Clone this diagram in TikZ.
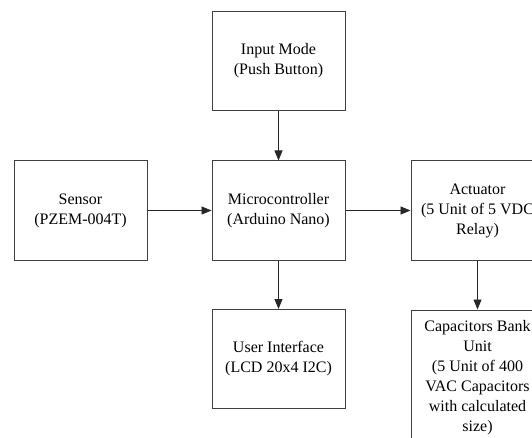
\documentclass[tikz,border=0pt]{standalone}
\usepackage{fontspec}
\setmainfont{Liberation Serif}
\usetikzlibrary{arrows.meta}
\begin{document}
\begin{tikzpicture}[x=1pt,y=-1pt,
  blk/.style={draw=black!75,line width=1pt,minimum width=133pt,minimum height=99pt,inner sep=0pt,align=center,font=\fontsize{16}{20}\selectfont,text=black},
  arr/.style={draw=black!85,line width=0.8pt,-{Triangle[length=10pt,width=8pt]}}]
\useasboundingbox (0,0) rectangle (532,438);
\clip (0,0) rectangle (532,438);
\node[blk] (inp) at (278.5,61) {Input Mode\\(Push Button)};
\node[blk] (sen) at (80.5,210.5) {Sensor\\(PZEM-004T)};
\node[blk] (mcu) at (278.5,210.5) {Microcontroller\\(Arduino Nano)};
\node[blk] (act) at (477.5,210.5) {Actuator\\(5 Unit of 5 VDC\\Relay)};
\node[blk] (ui) at (278.5,359) {User Interface\\(LCD 20x4 I2C)};
\node[blk,minimum height=136pt] (cap) at (477.5,378) {Capacitors Bank\\Unit\\(5 Unit of 400\\VAC Capacitors\\with calculated\\size)};
\draw[arr] (inp) -- (mcu);
\draw[arr] (sen) -- (mcu);
\draw[arr] (mcu) -- (act);
\draw[arr] (mcu) -- (ui);
\draw[arr] (act) -- (cap);
\end{tikzpicture}
\end{document}
